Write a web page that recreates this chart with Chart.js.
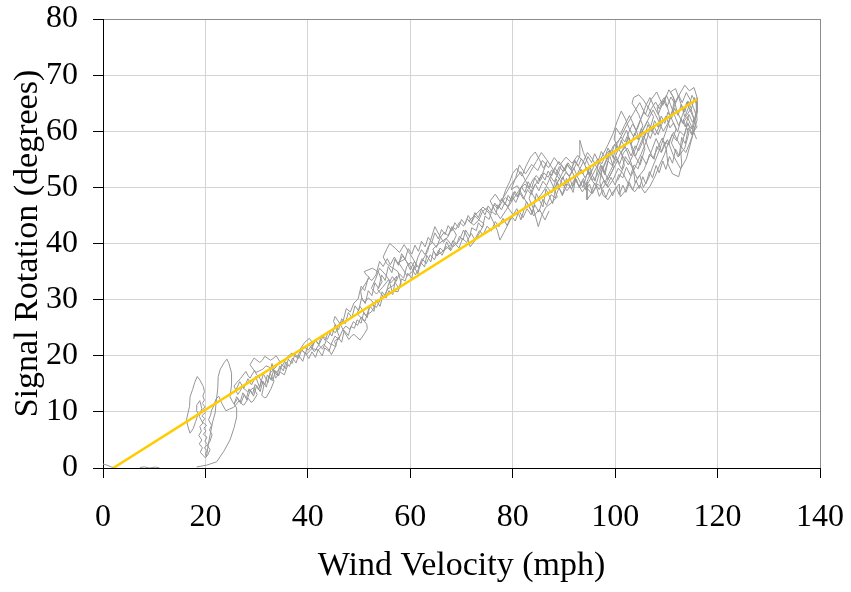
<!DOCTYPE html>
<html>
<head>
<meta charset="utf-8">
<script src="https://cdn.jsdelivr.net/npm/chart.js@4"></script>
<style>
  html, body { margin: 0; padding: 0; background: #fff; }
  #wrap { width: 851px; height: 592px; }
</style>
</head>
<body>
<div id="wrap"><canvas id="chart" width="851" height="592"></canvas></div>
<script>
// axis ticks
const xTicks = [0, 20, 40, 60, 80, 100, 120, 140];
const yTicks = [0, 10, 20, 30, 40, 50, 60, 70, 80];

const originA = [[0, 0.7], [0.8, 0.5], [1.6, 0.2], [2.3, 0.0]];
const originB = [[7.2, 0.1], [8.1, 0.2], [9.0, 0.0], [10.2, 0.15], [11.0, 0.05]];

const lowTrace = [
  [18.3, 0.2], [20.2, 0.5], [22.2, 1.1], [23.6, 3], [24.8, 5], [25.6, 7.2], [26.1, 9.1], [26.1, 10.7],
  [25.3, 11.8], [24.8, 12.7], [25.1, 14.8], [25.1, 16.9], [24.6, 18.6], [24.2, 19.4], [23.6, 18.7],
  [22.9, 17.6], [22.5, 16.3], [22.4, 14.1], [22.1, 11.8], [21.9, 9.8], [21.4, 8.2], [21.0, 6.3],
  [20.6, 4.4], [20.2, 2.0], [20.0, 2.6], [20.3, 3.1], [19.8, 3.6], [20.4, 4.2], [19.9, 4.8], [20.3, 5.5],
  [19.6, 6.0], [20.1, 6.6], [19.7, 7.1], [20.2, 7.6], [19.4, 8.2], [19.9, 8.8], [19.3, 9.3], [20.0, 9.9],
  [19.5, 10.4], [19.9, 10.9], [19.4, 11.5], [19.8, 12.1], [19.5, 12.8], [19.8, 13.6], [19.6, 14.5],
  [18.9, 15.7], [18.4, 16.3], [17.9, 15.2], [17.5, 14.0], [17.0, 12.7], [16.9, 11.0], [16.3, 8.6],
  [16.6, 7.3], [17.0, 6.2], [17.6, 7.0], [18.1, 8.3], [18.6, 9.7], [18.2, 10.3], [18.3, 11.2],
  [18.9, 12.0], [19.3, 10.6], [18.8, 9.2], [19.5, 8.0], [18.9, 7.4], [19.2, 6.6], [18.7, 5.8],
  [19.3, 5.0], [18.8, 4.3], [19.4, 3.6], [19.0, 2.8], [19.6, 2.2], [20.0, 1.8], [20.5, 2.4],
  [20.9, 3.3], [20.4, 4.0], [20.9, 4.8], [21.3, 5.9], [20.8, 6.8], [21.2, 7.6], [20.6, 8.6],
  [21.0, 9.4], [21.2, 10.3], [21.7, 11.2], [22.0, 12.2], [22.6, 12.8], [23.2, 11.5], [24.0, 10.2],
  [24.7, 10.5], [25.5, 10.8], [26.6, 12.0], [27.1, 11.4], [27.5, 11.2], [28.4, 12.4], [28.9, 11.7],
  [29.3, 11.9], [30.1, 13.1], [29.4, 14.3], [28.8, 13.9], [28.2, 13.6], [27.2, 14.4], [26.7, 13.6],
  [26.3, 13.1], [25.6, 14.6], [26.2, 15.3], [26.8, 15.9], [27.9, 17.2], [28.3, 16.5], [28.7, 16.0],
  [29.6, 17.4], [30.0, 16.6], [30.5, 16.2], [31.4, 14.6], [31.0, 13.0], [31.5, 12.5], [31.9, 12.6],
  [32.8, 14.1], [33.4, 15.5], [32.6, 16.9], [33.6, 17.8], [34.5, 19.0], [33.8, 20.0], [33.2, 19.5],
  [32.7, 19.2], [31.6, 19.9], [31.1, 19.2], [30.6, 18.8], [29.5, 19.6], [28.7, 18.4], [29.8, 17.0],
  [31.2, 17.6], [31.8, 18.2], [32.4, 18.0], [33.9, 17.1], [35.0, 18.2], [36.0, 19.8], [36.9, 20.5],
  [37.4, 20.0], [37.8, 19.7], [38.6, 20.9], [39.2, 21.6], [40.1, 21.0], [41.0, 22.2], [40.3, 23.1],
  [39.4, 22.4], [38.5, 21.2], [39.8, 20.3], [40.8, 21.3], [42.0, 21.0], [43.1, 22.0], [44.0, 21.2],
  [44.6, 20.2]
];

const midTrace = [
  [45.5, 21.8], [45.2, 22.6], [46.2, 23.3], [45.8, 24.2], [45.6, 25.2], [45.0, 26.1], [45.3, 27.0],
  [46.2, 25.8], [47.2, 24.1], [48.0, 22.9], [48.6, 23.6], [49.0, 23.8], [50.2, 22.8], [51.1, 24.0],
  [51.6, 24.8], [51.5, 25.6], [50.6, 26.6], [49.6, 27.5], [50.2, 28.8], [51.3, 27.2], [52.4, 27.8],
  [52.9, 28.6], [52.7, 29.6], [51.8, 30.3], [51.2, 29.6], [50.6, 30.0], [50.3, 31.5], [51.2, 32.8],
  [52.0, 34.0], [51.4, 34.4], [51.0, 35.0], [52.6, 35.6], [53.8, 34.9], [54.5, 33.2], [53.6, 31.8],
  [54.8, 30.5], [55.6, 31.9], [56.8, 32.6], [57.4, 34.2], [56.2, 33.0], [55.2, 34.4], [54.0, 35.6],
  [53.2, 33.6], [52.4, 32.0], [53.4, 31.0], [54.6, 32.2], [55.8, 33.6], [56.4, 31.6], [57.6, 31.4],
  [58.2, 33.0], [57.6, 35.0], [56.6, 35.6], [55.4, 36.4], [54.7, 37.6], [55.4, 39.0], [56.0, 40.0],
  [57.0, 39.2], [57.9, 38.4], [58.8, 39.8], [59.6, 38.6], [60.6, 37.2], [61.3, 36.0], [60.4, 35.0],
  [59.4, 34.2], [58.5, 35.5], [57.7, 36.6], [58.9, 37.2], [60.0, 36.0], [61.0, 34.4], [61.8, 35.8],
  [62.5, 37.2], [63.4, 38.6], [63.9, 40.4], [64.8, 43.0], [65.6, 41.6], [66.5, 40.2], [67.4, 41.3],
  [68.2, 42.8], [69.0, 41.5], [68.3, 40.1], [67.3, 39.3], [66.2, 38.5], [65.0, 37.8], [64.4, 39.0],
  [65.6, 40.0], [67.0, 40.9], [68.4, 39.4], [69.6, 40.6], [70.4, 42.4], [71.2, 41.0], [71.7, 39.4],
  [72.6, 40.5], [73.6, 42.0], [74.4, 43.5], [73.4, 44.2], [72.4, 43.3], [71.4, 44.0], [72.8, 45.2],
  [74.2, 46.5], [75.4, 45.4], [76.2, 43.9], [77.0, 42.3], [77.5, 40.6], [78.3, 42.0], [79.2, 43.6],
  [80.0, 45.2], [79.0, 46.5], [78.0, 47.8], [78.6, 49.5], [79.4, 51.0], [80.0, 52.5], [80.8, 53.4],
  [81.8, 52.0], [82.6, 53.8], [83.5, 55.4], [84.4, 56.3], [85.2, 55.0], [86.0, 53.4], [86.7, 54.6],
  [85.8, 52.4], [84.8, 51.0], [83.8, 49.7], [83.2, 48.0], [84.0, 46.3], [85.0, 43.0], [85.6, 44.8],
  [86.4, 46.4], [87.5, 47.2], [88.7, 48.3], [88.0, 50.0], [87.2, 51.6], [88.1, 53.2], [89.0, 54.6],
  [90.0, 53.4], [91.0, 52.0], [92.0, 53.4], [93.1, 55.6], [93.1, 58.4], [93.8, 56.2], [94.6, 54.5],
  [95.4, 53.0], [94.5, 51.0], [94.5, 47.8], [95.6, 49.2], [96.6, 50.6], [97.5, 49.8], [98.5, 51.2],
  [99.4, 52.8]
];

const highTrace = [
  [100.3, 54.5], [101.0, 56.0], [102.0, 57.2], [102.9, 55.0], [103.6, 53.0], [103.9, 50.8], [104.8, 52.2],
  [105.5, 50.0], [106.5, 51.6], [107.3, 53.6], [108.2, 55.6], [109.1, 57.8], [110.0, 60.2], [110.8, 62.4],
  [111.6, 64.6], [112.7, 66.8], [113.6, 68.2], [114.5, 67.2], [115.4, 67.8], [116.0, 66.0], [116.0, 63.3],
  [115.5, 61.4], [116.0, 60.8], [115.0, 59.5], [114.2, 61.5], [113.4, 59.0], [112.8, 56.7], [113.0, 54.0],
  [112.4, 51.9], [111.2, 52.4], [110.3, 54.2], [110.0, 56.7], [109.2, 58.8], [108.3, 57.0], [107.4, 55.2],
  [106.5, 57.0], [105.6, 59.2], [104.8, 57.5], [104.0, 55.6], [103.1, 57.8], [102.2, 60.2], [101.4, 58.6],
  [100.6, 56.8], [99.8, 55.0], [99.0, 56.6], [98.2, 54.8], [97.4, 53.0], [97.0, 51.0], [97.6, 48.6],
  [98.6, 47.8], [99.6, 49.2], [100.8, 50.6], [101.0, 48.3], [102.0, 49.4], [103.0, 51.8], [104.0, 53.8],
  [105.0, 55.8], [106.0, 58.0], [106.8, 60.4], [107.5, 62.6], [106.6, 64.0], [105.5, 65.6], [104.6, 66.5],
  [103.6, 66.0], [103.3, 65.0], [103.8, 64.3], [104.6, 63.0], [105.4, 61.0], [104.6, 59.0], [103.6, 61.2],
  [102.8, 62.8], [101.8, 61.0], [101.0, 59.4], [100.2, 60.6], [99.8, 58.6], [100.6, 57.0], [101.6, 55.4],
  [102.6, 54.0], [103.4, 55.6], [104.4, 57.8], [105.4, 60.2], [106.4, 62.0], [107.4, 63.8], [108.4, 62.0],
  [109.4, 60.0], [110.4, 61.6], [111.2, 63.8], [111.6, 65.6], [110.8, 67.0], [111.8, 67.6], [112.8, 65.0],
  [113.6, 62.6], [114.4, 64.4], [115.0, 66.4], [115.8, 65.0], [116.0, 62.0], [115.4, 60.0], [114.6, 58.0],
  [113.8, 56.2], [112.6, 57.6], [111.4, 59.8], [110.4, 58.0], [109.6, 55.8], [108.6, 53.8], [107.8, 52.0],
  [106.8, 50.2], [105.8, 49.0], [104.8, 50.4], [103.8, 49.2], [102.6, 50.6], [101.6, 52.4], [100.6, 53.4],
  [99.6, 51.4], [98.6, 50.0], [97.6, 51.6], [96.6, 53.2], [95.6, 55.0], [94.6, 56.2], [93.6, 54.2],
  [92.6, 52.4], [91.6, 50.6], [90.6, 49.4], [89.6, 50.8], [88.6, 52.2], [87.6, 53.6], [86.6, 55.0],
  [85.6, 56.2], [84.6, 54.6], [83.6, 53.0], [82.6, 51.4], [81.6, 50.0], [80.6, 48.6], [79.6, 47.2],
  [78.6, 45.8], [77.6, 44.4], [76.6, 45.8], [75.6, 47.6], [76.6, 48.8], [77.6, 47.4], [78.6, 48.8],
  [79.6, 50.4], [80.6, 51.6], [81.6, 52.8], [82.6, 51.0], [83.6, 49.2], [84.6, 47.6], [85.6, 48.8],
  [86.6, 50.2], [87.6, 49.0], [88.6, 50.6], [89.6, 52.4], [90.6, 54.2], [91.6, 52.8], [92.6, 50.8],
  [93.6, 49.2], [94.6, 50.6], [95.6, 52.2], [96.6, 54.0], [97.6, 55.8], [98.6, 57.6], [99.6, 59.6],
  [100.4, 61.8], [101.2, 63.6], [102.0, 62.2], [102.8, 60.4], [103.6, 59.0], [104.4, 60.6], [105.2, 62.6],
  [106.0, 64.6], [106.8, 66.0], [107.6, 64.4], [108.4, 63.0], [109.2, 64.8], [110.0, 66.4], [110.8, 64.8],
  [111.6, 62.8], [112.4, 61.0], [113.2, 63.0], [114.0, 65.2], [114.8, 63.4], [115.4, 62.2]
];

// wind falling back down, then rising again
const returnTrace = [
  [115.0, 60.4], [114.1, 61.3], [113.5, 59.2], [112.6, 60.0], [112.0, 58.3], [111.1, 59.4], [110.5, 57.6],
  [109.7, 58.1], [109.0, 56.2], [108.1, 57.3], [107.6, 55.0], [106.7, 55.9], [106.1, 54.1], [105.2, 55.6],
  [104.5, 53.3], [103.7, 54.0], [103.0, 52.1], [102.2, 53.6], [101.5, 51.7], [100.7, 52.3], [100.0, 50.4],
  [99.2, 51.8], [98.4, 50.2], [97.7, 51.1], [96.9, 49.6], [96.0, 50.8], [95.3, 49.0], [94.5, 49.9],
  [93.8, 51.6], [93.0, 50.2], [92.2, 51.4], [91.5, 49.7], [90.7, 50.6], [89.8, 48.8], [89.0, 49.9],
  [88.3, 48.1], [87.5, 48.7], [86.6, 46.8], [85.9, 47.9], [85.1, 45.6], [84.3, 46.9], [83.6, 45.1],
  [82.8, 46.2], [82.0, 44.6], [81.2, 45.8], [80.5, 44.0], [79.7, 44.9], [78.9, 43.2], [78.1, 44.5],
  [77.3, 43.0], [76.6, 43.9], [75.8, 42.2], [75.0, 43.1], [74.2, 41.5], [73.5, 42.3], [72.6, 40.7],
  [71.9, 41.8], [71.0, 40.2], [70.2, 40.9], [69.5, 39.2], [68.6, 40.1], [67.9, 38.7], [67.0, 39.5],
  [66.2, 37.9], [65.5, 38.8], [64.7, 37.1], [63.9, 38.0], [63.1, 36.4], [62.3, 37.3], [61.6, 35.7],
  [60.8, 36.8], [60.0, 35.3], [59.2, 36.9], [58.5, 37.8], [57.6, 36.4], [56.9, 37.6], [56.1, 36.2],
  [55.5, 37.3], [54.7, 35.9], [54.0, 36.8], [53.3, 34.4], [52.5, 33.4], [51.8, 33.9], [51.1, 31.6],
  [50.4, 32.4], [49.8, 30.1], [49.0, 29.4], [48.3, 27.8], [47.5, 28.4], [46.9, 26.2], [46.1, 25.7],
  [45.4, 24.1], [44.6, 24.6], [43.8, 22.9], [43.0, 23.5], [42.2, 22.0], [41.5, 22.8], [40.7, 21.4],
  [41.3, 20.7], [42.1, 21.9], [42.9, 21.2], [43.6, 22.7], [44.5, 22.0], [45.3, 23.5], [46.0, 22.9],
  [46.8, 24.6], [47.4, 25.3], [48.2, 24.7], [48.9, 26.1], [49.7, 25.4], [50.4, 26.9], [51.2, 26.2],
  [51.9, 28.4], [52.6, 29.1], [53.4, 28.6], [54.1, 29.9], [54.5, 31.4], [55.1, 30.6], [55.8, 32.9],
  [56.5, 34.1], [57.2, 33.2], [57.9, 34.6], [58.7, 33.8], [59.3, 35.9], [60.1, 36.7], [60.9, 35.8],
  [61.5, 37.6], [62.2, 38.9], [62.9, 38.0], [63.6, 39.6], [64.4, 40.2], [65.1, 39.3], [65.9, 41.1],
  [66.6, 42.0], [67.4, 41.4], [68.1, 43.0], [68.9, 42.5], [69.6, 43.8], [70.4, 43.1], [71.1, 44.4],
  [71.9, 43.6], [72.6, 44.9], [73.4, 44.2], [74.1, 45.7], [74.9, 46.3], [75.6, 45.5], [76.4, 46.9],
  [77.1, 46.1], [77.9, 47.4], [78.6, 48.2], [79.4, 47.5], [80.1, 49.1], [80.9, 48.3], [81.6, 49.9],
  [82.4, 50.6], [83.1, 49.8], [83.9, 51.3], [84.6, 52.1], [85.4, 51.2], [86.1, 52.6], [86.9, 51.8],
  [87.6, 53.1], [88.4, 52.3], [89.1, 53.7], [89.9, 52.8], [90.6, 54.0], [91.4, 53.1], [92.1, 54.6],
  [92.9, 53.7], [93.6, 52.4], [94.4, 53.6], [95.1, 52.2], [95.9, 53.9], [96.6, 55.1], [97.4, 54.2],
  [98.1, 55.7], [98.9, 56.6], [99.6, 55.3], [100.4, 57.8], [101.1, 59.0], [101.9, 58.1], [102.6, 59.7],
  [103.4, 61.3], [104.1, 60.2], [104.9, 62.0], [105.6, 63.4], [106.4, 62.6], [107.1, 64.1], [107.9, 65.2],
  [108.6, 64.0], [109.4, 65.5], [110.1, 64.3], [110.9, 66.1], [111.6, 65.0], [112.4, 66.4], [113.1, 65.1],
  [113.9, 66.9], [114.6, 65.7], [115.3, 64.2], [115.8, 62.9]
];

// wind easing off again, down to the low end
const tailTrace = [
  [115.1, 61.6], [114.4, 63.0], [113.7, 60.8], [112.9, 62.2], [112.2, 59.9], [111.4, 61.5], [110.7, 60.6],
  [109.9, 62.7], [109.1, 61.2], [108.4, 59.4], [107.6, 60.8], [106.9, 58.7], [106.1, 59.9], [105.4, 58.2],
  [104.6, 56.5], [103.9, 57.4], [103.1, 55.6], [102.4, 57.0], [101.6, 56.1], [100.9, 54.2], [100.1, 55.6],
  [99.4, 53.9], [98.6, 54.7], [97.9, 52.6], [97.1, 53.8], [96.4, 52.0], [95.6, 51.3], [94.9, 52.8],
  [94.1, 51.7], [93.4, 53.2], [92.6, 52.0], [91.9, 53.5], [91.1, 51.9], [90.4, 52.7], [89.6, 51.4],
  [88.9, 52.6], [88.1, 51.0], [87.4, 51.9], [86.6, 50.3], [85.9, 51.1], [85.1, 49.4], [84.4, 50.6],
  [83.6, 48.7], [82.9, 49.6], [82.1, 47.9], [81.4, 49.0], [80.6, 47.3], [79.9, 48.4], [79.1, 46.6],
  [78.4, 47.2], [77.8, 46.0], [77.1, 46.9], [76.7, 45.1], [75.9, 45.7], [75.4, 44.3], [74.6, 44.9],
  [74.1, 42.8], [73.3, 43.7], [72.9, 42.3], [72.0, 42.8], [71.6, 41.2], [70.8, 42.4], [70.3, 40.6],
  [69.6, 41.3], [69.1, 39.9], [68.3, 40.5], [67.8, 38.9], [67.1, 40.3], [66.5, 38.6], [65.8, 39.2],
  [65.3, 37.8], [64.5, 38.6], [64.0, 36.7], [63.2, 37.9], [62.8, 35.8], [62.0, 36.7], [61.5, 34.6],
  [60.7, 35.9], [60.3, 33.8], [59.5, 34.7], [59.0, 33.3], [58.3, 33.7], [57.8, 32.0], [57.0, 33.1],
  [56.6, 30.9], [55.8, 31.6], [55.3, 30.3], [54.6, 30.6], [54.1, 28.8], [53.3, 29.9], [52.9, 27.9],
  [52.1, 28.9], [51.6, 26.8], [50.9, 27.7], [50.4, 25.8], [49.6, 26.4], [49.1, 24.9], [48.4, 25.2],
  [47.9, 23.6], [47.1, 24.5], [46.6, 22.4], [45.9, 23.3], [45.4, 21.6], [44.6, 22.1], [44.1, 20.8],
  [43.3, 21.4], [42.8, 20.0], [42.0, 21.1], [41.5, 19.7], [40.8, 20.7], [40.2, 19.5], [39.5, 20.5],
  [39.0, 19.0], [38.2, 20.1], [37.7, 18.7], [37.0, 19.6], [36.4, 18.1], [35.7, 18.9], [35.2, 17.3],
  [34.5, 18.2], [34.0, 16.5], [33.3, 17.4], [32.8, 15.7], [32.1, 16.6], [31.6, 14.8], [30.9, 15.6],
  [30.4, 13.9], [29.7, 14.9], [29.2, 13.1], [28.5, 14.1], [28.0, 12.4], [27.3, 13.4], [26.8, 11.8],
  [26.1, 12.7], [25.6, 11.4]
];

// a final climb back up through the band, then dropping off at the top
const climbTrace = [
  [26.3, 12.4], [26.9, 11.5], [27.6, 13.1], [28.1, 12.1], [28.8, 13.9], [29.4, 12.8], [30.0, 14.7],
  [30.7, 13.6], [31.2, 15.5], [31.9, 14.4], [32.4, 16.4], [33.1, 15.5], [33.7, 17.3], [34.3, 16.4],
  [34.9, 18.5], [35.6, 17.7], [36.2, 19.4], [36.9, 18.6], [37.5, 20.3], [38.2, 19.5], [38.8, 21.1],
  [39.5, 20.3], [40.1, 22.1], [40.8, 21.3], [41.4, 22.8], [42.1, 22.0], [42.7, 23.7], [43.4, 22.7],
  [44.0, 24.4], [44.7, 23.5], [45.3, 25.5], [46.0, 24.6], [46.6, 26.6], [47.3, 25.7], [47.9, 27.7],
  [48.6, 26.8], [49.2, 28.9], [49.9, 28.0], [50.5, 30.3], [51.2, 29.3], [51.8, 31.6], [52.5, 30.7],
  [53.1, 33.0], [53.8, 32.0], [54.4, 34.4], [55.1, 33.4], [55.7, 35.9], [56.4, 34.8], [57.0, 37.2],
  [57.7, 36.1], [58.3, 38.2], [59.0, 37.2], [59.6, 39.1], [60.3, 38.1], [60.9, 39.7], [61.6, 38.6],
  [62.2, 40.4], [62.9, 39.4], [63.5, 41.1], [64.2, 40.2], [64.8, 41.9], [65.5, 40.8], [66.1, 42.5],
  [66.8, 41.6], [67.4, 43.2], [68.1, 42.2], [68.7, 43.7], [69.4, 42.8], [70.0, 44.3], [70.7, 43.4],
  [71.3, 45.0], [72.0, 43.9], [72.6, 45.5], [73.3, 44.6], [73.9, 46.1], [74.6, 45.1], [75.2, 46.7],
  [75.9, 45.8], [76.5, 47.2], [77.2, 46.3], [77.8, 48.0], [78.5, 46.9], [79.1, 48.6], [79.8, 47.6],
  [80.4, 49.3], [81.1, 48.3], [81.7, 50.1], [82.4, 49.1], [83.0, 51.0], [83.7, 49.9], [84.3, 51.7],
  [85.0, 50.6], [85.6, 52.3], [86.3, 51.3], [86.9, 52.9], [87.6, 52.0], [88.2, 53.5], [88.9, 52.5],
  [89.5, 54.0], [90.2, 52.9], [90.8, 54.4], [91.5, 53.4], [92.1, 54.9], [92.8, 53.8], [93.4, 55.1],
  [94.1, 54.1], [94.7, 55.5], [95.4, 54.4], [96.0, 56.0], [96.7, 54.7], [97.3, 56.4], [98.0, 55.3],
  [98.6, 57.0], [99.3, 55.9], [99.9, 57.7], [100.6, 56.6], [101.2, 58.4], [101.9, 57.1], [102.5, 59.0],
  [103.2, 57.8], [103.8, 59.7], [104.5, 58.5], [105.1, 60.5], [105.8, 59.2], [106.4, 61.2], [107.1, 59.9],
  [107.7, 61.9], [108.4, 60.7], [109.0, 62.7], [109.7, 61.4], [110.3, 63.4], [111.0, 62.2], [111.6, 64.1],
  [112.3, 62.8], [112.9, 64.8], [113.6, 63.4], [114.2, 65.4], [114.9, 64.0], [115.5, 66.0], [116.0, 64.6],
  [115.6, 62.4], [115.0, 59.3], [114.3, 60.6], [113.7, 57.8], [113.0, 58.9], [112.5, 55.6], [111.8, 56.8],
  [111.2, 54.3], [110.6, 55.5], [109.9, 53.2], [109.3, 54.7], [108.6, 52.6], [108.0, 53.9], [107.3, 51.7],
  [106.7, 52.8], [106.0, 50.6], [105.4, 51.9], [104.7, 49.8], [104.1, 51.2], [103.4, 49.5], [102.8, 50.9],
  [102.1, 49.1], [101.5, 50.4], [100.8, 48.7], [100.2, 50.1], [99.5, 48.5], [98.9, 49.8], [98.2, 48.2],
  [97.6, 49.6], [96.9, 48.4], [96.3, 50.2], [95.6, 48.9], [95.0, 50.6], [94.3, 49.5], [93.7, 51.2],
  [93.0, 49.9], [92.4, 51.5], [91.7, 50.1], [91.1, 51.8], [90.4, 50.3], [89.8, 51.9], [89.1, 50.0],
  [88.5, 51.5], [87.8, 49.6]
];

// extra scribbles where the reference trace is thickest
const lowScribble = [
  [25.9, 13.8], [26.7, 15.4], [27.5, 14.2], [28.3, 15.9], [29.0, 14.8], [29.8, 16.3], [30.6, 14.3],
  [31.3, 16.8], [32.2, 15.2], [33.0, 18.6], [33.7, 16.0], [34.6, 17.1], [35.4, 16.6], [36.1, 18.4]
];

const midScribble = [
  [79.5, 44.1], [80.8, 46.2], [81.6, 44.2], [82.7, 47.5], [83.9, 45.4], [84.6, 48.9], [85.9, 46.5],
  [86.5, 49.7], [87.8, 47.1], [88.6, 50.9], [89.7, 48.5], [90.5, 51.6], [91.8, 49.1], [92.4, 52.3],
  [93.7, 50.0], [94.9, 53.5], [96.1, 51.1], [96.8, 54.7], [98.0, 52.2], [98.9, 55.8], [99.7, 53.4],
  [98.6, 51.4], [97.4, 53.9], [96.2, 50.3], [95.1, 51.8], [93.8, 54.6], [92.7, 55.7], [91.6, 54.3],
  [90.4, 55.4], [89.2, 54.0], [88.1, 55.3], [87.0, 53.5], [85.8, 54.8], [84.9, 53.0], [83.7, 54.1],
  [82.5, 52.4], [81.3, 54.0], [80.6, 51.8], [79.7, 49.6], [80.9, 50.3], [82.0, 48.4], [83.0, 46.9],
  [84.1, 44.9], [85.2, 46.1], [86.3, 44.2], [87.1, 45.8]
];

const topScribble = [
  [100.5, 51.2], [101.8, 53.9], [101.2, 56.3], [102.7, 58.8], [103.5, 56.1], [104.9, 54.0], [105.8, 56.9],
  [105.1, 59.6], [106.3, 61.8], [107.8, 59.3], [108.9, 61.4], [108.2, 64.2], [109.6, 66.0], [110.6, 63.1],
  [111.9, 60.4], [111.0, 57.9], [112.3, 55.4], [113.6, 57.0], [114.4, 59.7], [113.3, 62.0], [114.8, 64.0],
  [115.7, 61.3], [114.9, 58.4], [113.9, 55.1], [112.8, 53.3], [111.4, 55.6], [110.2, 58.5], [109.1, 56.4],
  [108.0, 58.7], [106.9, 56.0], [105.6, 53.1], [104.3, 51.6], [103.2, 53.8], [102.0, 55.5], [101.3, 53.2],
  [100.2, 55.1], [99.1, 53.0], [98.0, 50.9], [97.2, 52.5], [98.4, 54.9], [99.6, 57.3], [100.9, 58.6],
  [102.3, 61.2], [103.7, 63.4], [104.8, 65.1], [105.9, 63.0], [107.0, 65.6], [108.1, 67.0], [109.3, 64.6],
  [110.5, 67.4], [111.3, 66.2], [112.1, 63.5], [113.2, 61.4], [114.1, 62.6], [115.2, 60.2], [115.9, 58.6]
];

// linear fit line end points
const fitX = [2, 116];
const fitY = [0, 65.7];

// each segment is followed by a gap so separate pieces are not joined
const segments = [
  originA,
  originB,
  lowTrace.concat(midTrace, highTrace, returnTrace, tailTrace, climbTrace),
  lowScribble,
  midScribble,
  topScribble
];
const traceData = [];
segments.forEach(seg => {
  seg.forEach(([x, y]) => traceData.push({ x, y }));
  traceData.push({ x: seg[seg.length - 1][0], y: null });
});

const fitData = fitX.map((x, i) => ({ x, y: fitY[i] }));

const serif = "'Liberation Serif', 'Times New Roman', serif";
const edgeGrid = (max) => (c) => (c.tick && c.tick.value === max ? '#8c8c8c' : '#d4d4d4');
// keep the plot box where the original has it
const noPad = (s) => { s.paddingTop = 0; s.paddingBottom = 0; s.paddingLeft = 0; s.paddingRight = 0; };

new Chart(document.getElementById('chart'), {
  type: 'scatter',
  data: {
    datasets: [
      {
        label: 'Fit',
        data: fitData,
        showLine: true,
        borderColor: '#FFCC00',
        borderWidth: 2.6,
        pointRadius: 0,
        order: 0
      },
      {
        label: 'Signal',
        data: traceData,
        showLine: true,
        spanGaps: false,
        borderColor: '#969696',
        borderWidth: 1,
        pointRadius: 0,
        tension: 0,
        order: 1
      }
    ]
  },
  options: {
    responsive: false,
    animation: false,
    devicePixelRatio: 1,
    layout: { padding: { top: 19, right: 31, left: 0, bottom: 0 } },
    plugins: {
      legend: { display: false },
      tooltip: { enabled: false }
    },
    scales: {
      x: {
        type: 'linear',
        min: 0,
        max: 140,
        afterBuildTicks: (s) => { s.ticks = xTicks.map(v => ({ value: v })); },
        afterFit: (s) => { s.height = 124; noPad(s); },
        ticks: {
          color: '#000',
          font: { family: serif, size: 32 },
          padding: 20,
          maxRotation: 0
        },
        grid: { color: edgeGrid(140), tickColor: '#000', tickLength: 10, lineWidth: 1 },
        border: { color: '#000', width: 1 },
        title: {
          display: true,
          text: 'Wind Velocity (mph)',
          color: '#000',
          font: { family: serif, size: 34 },
          padding: { top: 0, bottom: 6 }
        }
      },
      y: {
        type: 'linear',
        min: 0,
        max: 80,
        afterBuildTicks: (s) => { s.ticks = yTicks.map(v => ({ value: v })); },
        afterFit: (s) => { s.width = 103; noPad(s); },
        ticks: {
          color: '#000',
          font: { family: serif, size: 32 },
          padding: 15
        },
        grid: { color: edgeGrid(80), tickColor: '#000', tickLength: 10, lineWidth: 1 },
        border: { color: '#000', width: 1 },
        title: {
          display: true,
          text: 'Signal Rotation (degrees)',
          color: '#000',
          font: { family: serif, size: 34 },
          padding: { top: 8, bottom: 0 }
        }
      }
    }
  }
});
</script>
</body>
</html>
